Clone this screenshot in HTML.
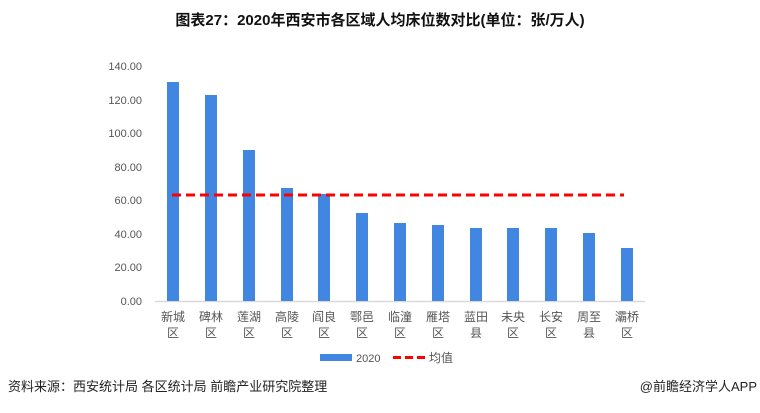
<!DOCTYPE html>
<html><head><meta charset="utf-8"><style>
body{margin:0;background:#fff;}
svg text{font-family:"Liberation Sans","Noto Sans CJK SC",sans-serif;}
</style></head><body>
<svg width="760" height="408" xmlns="http://www.w3.org/2000/svg">
<rect width="760" height="408" fill="#fff"/>
<text x="380" y="25" text-anchor="middle" font-size="15" font-weight="bold" fill="#111">图表27：2020年西安市各区域人均床位数对比(单位：张/万人)</text>
<g font-size="11" fill="#555" text-anchor="end">
<text x="142" y="70">140.00</text>
<text x="142" y="104">120.00</text>
<text x="142" y="137">100.00</text>
<text x="142" y="171">80.00</text>
<text x="142" y="204">60.00</text>
<text x="142" y="238">40.00</text>
<text x="142" y="271">20.00</text>
<text x="142" y="305">0.00</text>
</g>
<line x1="155" y1="301.5" x2="645" y2="301.5" stroke="#d9d9d9" stroke-width="1.5"/>
<g fill="#4186e0">
<rect x="167" y="82" width="12" height="219"/>
<rect x="205" y="95" width="12" height="206"/>
<rect x="243" y="150" width="12" height="151"/>
<rect x="281" y="188" width="12" height="113"/>
<rect x="318" y="194" width="12" height="107"/>
<rect x="356" y="213" width="12" height="88"/>
<rect x="394" y="223" width="12" height="78"/>
<rect x="432" y="225" width="12" height="76"/>
<rect x="470" y="228" width="12" height="73"/>
<rect x="507" y="228" width="12" height="73"/>
<rect x="545" y="228" width="12" height="73"/>
<rect x="583" y="233" width="12" height="68"/>
<rect x="621" y="248" width="12" height="53"/>
</g>
<line x1="172" y1="195" x2="624" y2="195" stroke="#f00" stroke-width="3" stroke-dasharray="9,5"/>
<g font-size="12" fill="#555" text-anchor="middle">
<text x="173" y="321">新城</text><text x="173" y="337">区</text>
<text x="211" y="321">碑林</text><text x="211" y="337">区</text>
<text x="249" y="321">莲湖</text><text x="249" y="337">区</text>
<text x="287" y="321">高陵</text><text x="287" y="337">区</text>
<text x="324" y="321">阎良</text><text x="324" y="337">区</text>
<text x="362" y="321">鄠邑</text><text x="362" y="337">区</text>
<text x="400" y="321">临潼</text><text x="400" y="337">区</text>
<text x="438" y="321">雁塔</text><text x="438" y="337">区</text>
<text x="476" y="321">蓝田</text><text x="476" y="337">县</text>
<text x="513" y="321">未央</text><text x="513" y="337">区</text>
<text x="551" y="321">长安</text><text x="551" y="337">区</text>
<text x="589" y="321">周至</text><text x="589" y="337">县</text>
<text x="627" y="321">灞桥</text><text x="627" y="337">区</text>
</g>
<rect x="320" y="354" width="32" height="7" fill="#4186e0"/>
<text x="356" y="362" font-size="11" fill="#555">2020</text>
<line x1="393" y1="357.5" x2="425" y2="357.5" stroke="#f00" stroke-width="3" stroke-dasharray="8,4"/>
<text x="429" y="362" font-size="12" fill="#555">均值</text>
<text x="8" y="391" font-size="13" fill="#222">资料来源：西安统计局 各区统计局 前瞻产业研究院整理</text>
<text x="757" y="391" font-size="13" fill="#222" text-anchor="end">@前瞻经济学人APP</text>
</svg>
</body></html>
